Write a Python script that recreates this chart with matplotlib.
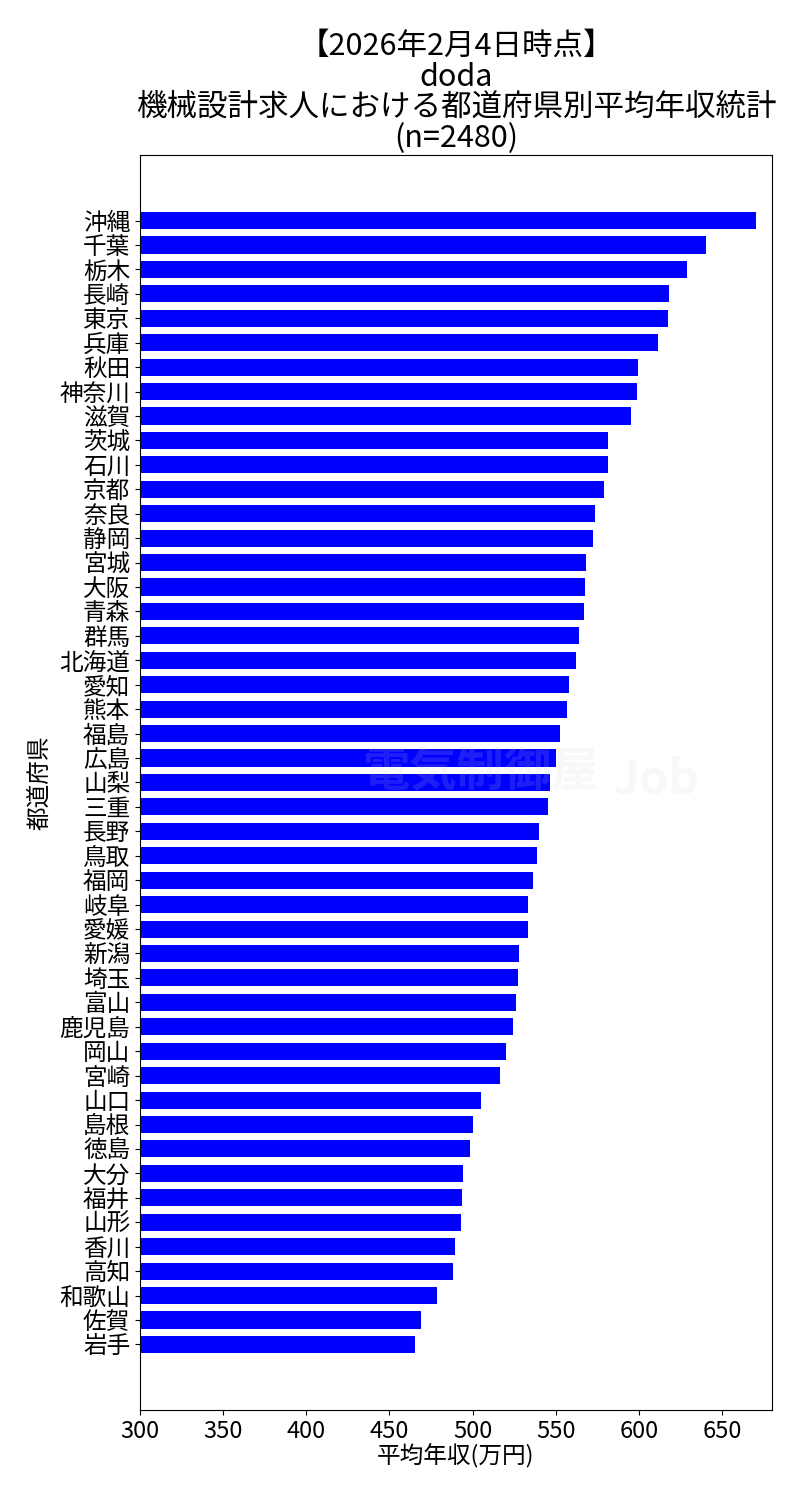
import matplotlib
matplotlib.use("Agg")
import matplotlib.pyplot as plt

plt.rcParams['font.family'] = ['Noto Sans CJK JP', 'DejaVu Sans']

prefectures = ["沖縄", "千葉", "栃木", "長崎", "東京", "兵庫", "秋田", "神奈川", "滋賀", "茨城",
               "石川", "京都", "奈良", "静岡", "宮城", "大阪", "青森", "群馬", "北海道", "愛知",
               "熊本", "福島", "広島", "山梨", "三重", "長野", "鳥取", "福岡", "岐阜", "愛媛",
               "新潟", "埼玉", "富山", "鹿児島", "岡山", "宮崎", "山口", "島根", "徳島", "大分",
               "福井", "山形", "香川", "高知", "和歌山", "佐賀", "岩手"]
salaries = [670.4, 640.3, 628.9, 618.1, 617.5, 611.5, 599.5, 598.9, 595.3, 581.4,
            581.4, 579.0, 573.6, 572.4, 568.2, 567.6, 567.0, 564.0, 562.2, 558.0,
            556.8, 552.6, 550.2, 546.5, 545.3, 539.9, 538.7, 536.3, 533.3, 533.3,
            527.9, 527.3, 526.1, 524.3, 520.1, 516.5, 505.1, 500.2, 498.4, 494.2,
            493.6, 493.0, 489.4, 488.2, 478.6, 469.0, 465.4]
xticks = [300, 350, 400, 450, 500, 550, 600, 650]

title = "【2026年2月4日時点】\ndoda\n機械設計求人における都道府県別平均年収統計\n(n=2480)"

fig = plt.figure(figsize=(8, 15), dpi=100)
ax = fig.add_axes([0.175, 0.06, 0.79, 0.8367])

ax.barh(prefectures, salaries, height=0.7, color='#0000ff')
ax.invert_yaxis()
ax.set_xlim(300, 680)
ax.set_xticks(xticks)
ax.tick_params(axis='both', labelsize=17)
ax.set_xlabel("平均年収(万円)", fontsize=17, labelpad=1)
ax.set_ylabel("都道府県", fontsize=17, labelpad=6)
ax.set_title(title, fontsize=22, linespacing=0.98, pad=6)

fig.text(0.6, 0.485, "電気制御屋", fontsize=34, color='#d0d0d0', alpha=0.15,
         ha='center', va='center', fontweight='bold')
fig.text(0.82, 0.48, "Job", fontsize=34, color='#d0d0d0', alpha=0.15,
         ha='center', va='center', fontweight='bold')

fig.savefig("out.png", dpi=100)
